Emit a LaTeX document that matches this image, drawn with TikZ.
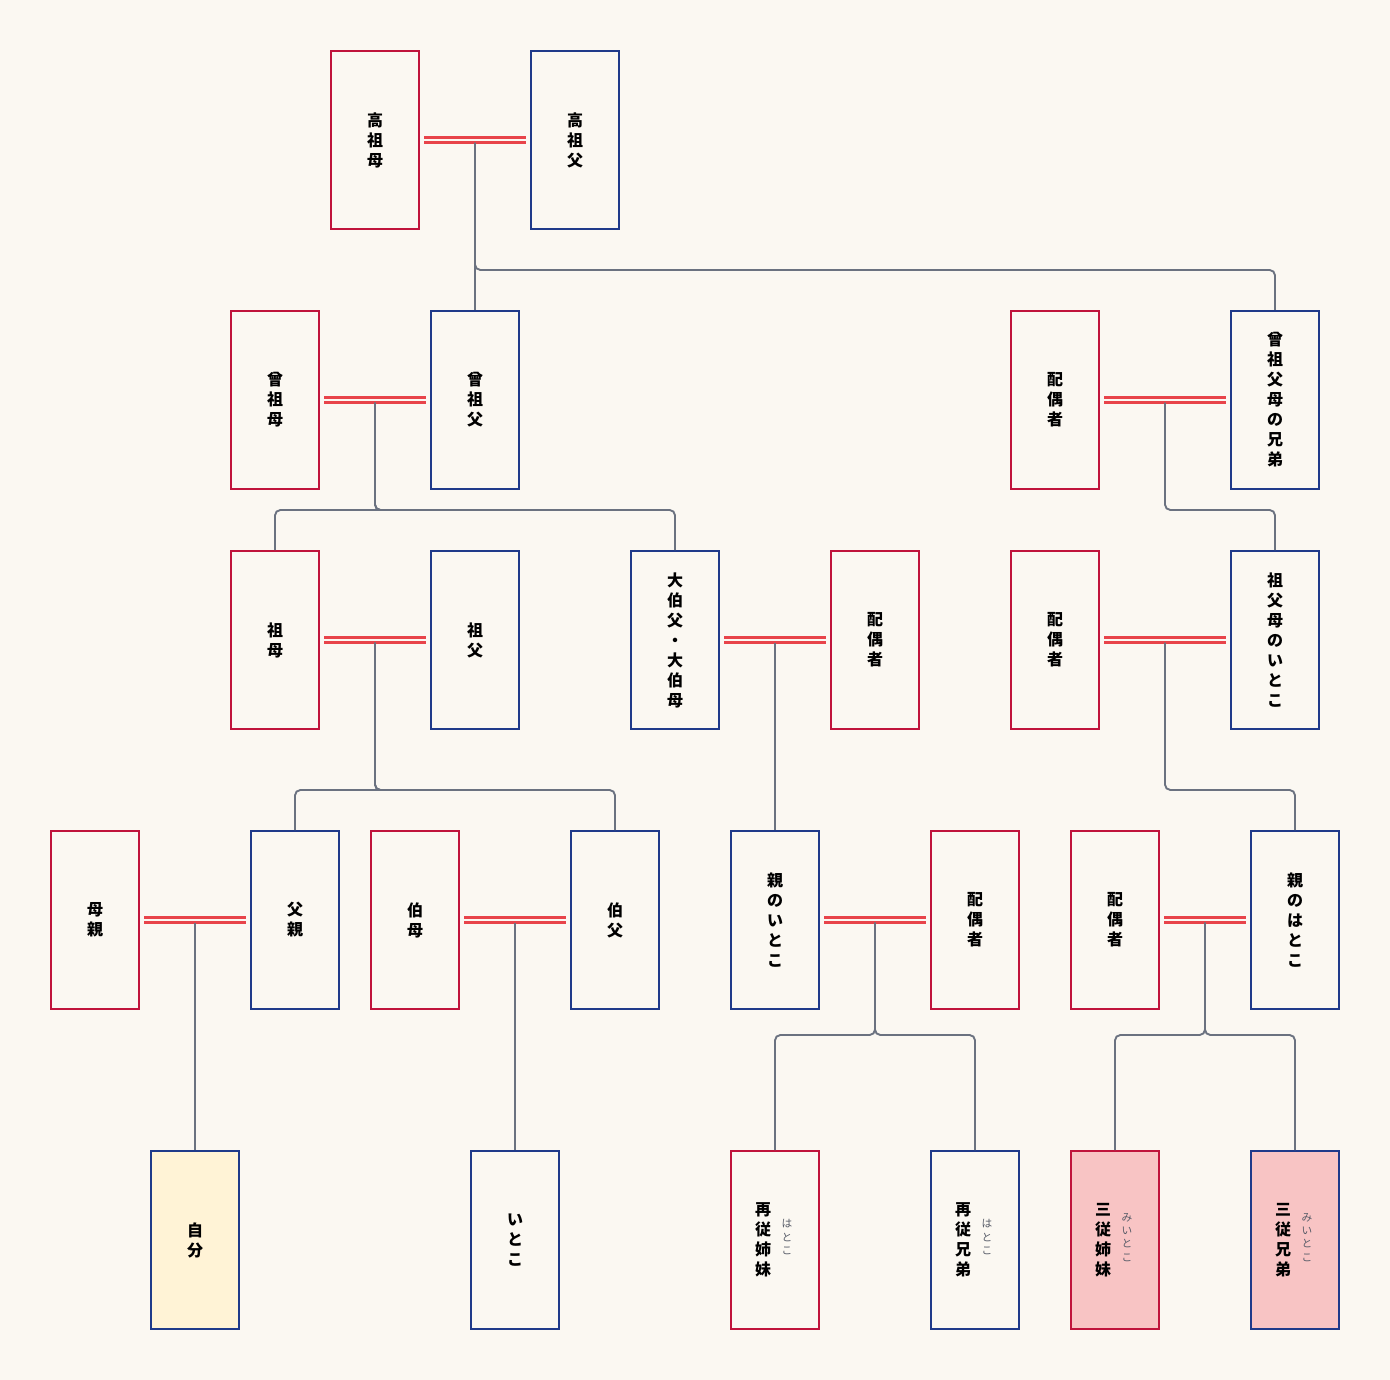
\documentclass[tikz,border=0pt]{standalone}
\usepackage{fontspec}
\newfontfamily\cjk{Noto Sans CJK JP}
\newfontfamily\cjkb{Noto Sans CJK JP Bold}
\definecolor{bg}{HTML}{FBF8F2}
\definecolor{fred}{HTML}{C0143C}
\definecolor{fblue}{HTML}{1F3A8A}
\definecolor{lgray}{HTML}{6B7280}
\definecolor{mred}{HTML}{E8444A}
\definecolor{yel}{HTML}{FFF3D6}
\definecolor{pink}{HTML}{F8C4C4}
\begin{document}
\begin{tikzpicture}[x=0.75pt,y=-0.75pt,
 p/.style={draw,line width=1.5pt,minimum width=66pt,minimum height=133.5pt,inner sep=0pt,fill=bg,
   font=\cjk\bfseries\fontsize{12}{15}\selectfont,align=center,text width=20pt},
 f/.style={p,draw=fred},
 m/.style={p,draw=fblue},
 ln/.style={draw=lgray,line width=1.4pt,rounded corners=4pt},
 mar/.style={draw=mred,line width=2.6pt,double=bg,double distance=1.3pt},
 rb/.style={font=\cjk\fontsize{8}{10}\selectfont,text=lgray!80!black,align=center}]
\fill[bg] (0,0) rectangle (1390,1380);
\useasboundingbox (0,0) rectangle (1390,1380);
% row 1
\node[f] (a1) at (375,140) {高\\祖\\母};
\node[m] (a2) at (575,140) {高\\祖\\父};
% row 2
\node[f] (b1) at (275,400) {曾\\祖\\母};
\node[m] (b2) at (475,400) {曾\\祖\\父};
\node[f] (b3) at (1055,400) {配\\偶\\者};
\node[m] (b4) at (1275,400) {曾\\祖\\父\\母\\の\\兄\\弟};
% row 3
\node[f] (c1) at (275,640) {祖\\母};
\node[m] (c2) at (475,640) {祖\\父};
\node[m] (c3) at (675,640) {大\\伯\\父\\・\\大\\伯\\母};
\node[f] (c4) at (875,640) {配\\偶\\者};
\node[f] (c5) at (1055,640) {配\\偶\\者};
\node[m] (c6) at (1275,640) {祖\\父\\母\\の\\い\\と\\こ};
% row 4
\node[f] (d1) at (95,920) {母\\親};
\node[m] (d2) at (295,920) {父\\親};
\node[f] (d3) at (415,920) {伯\\母};
\node[m] (d4) at (615,920) {伯\\父};
\node[m] (d5) at (775,920) {親\\の\\い\\と\\こ};
\node[f] (d6) at (975,920) {配\\偶\\者};
\node[f] (d7) at (1115,920) {配\\偶\\者};
\node[m] (d8) at (1295,920) {親\\の\\は\\と\\こ};
% row 5
\node[m,fill=yel] (e1) at (195,1240) {自\\分};
\node[m] (e2) at (515,1240) {い\\と\\こ};
\node[f] (e3) at (775,1240) {};
\node[m] (e4) at (975,1240) {};
\node[f,fill=pink] (e5) at (1115,1240) {};
\node[m,fill=pink] (e6) at (1295,1240) {};
\foreach \n/\t/\r in {e3/再\\従\\姉\\妹/は\\と\\こ, e4/再\\従\\兄\\弟/は\\と\\こ, e5/三\\従\\姉\\妹/み\\い\\と\\こ, e6/三\\従\\兄\\弟/み\\い\\と\\こ}{
  \node[font=\cjk\bfseries\fontsize{12}{15}\selectfont,align=center] (\n t) at ([xshift=-9pt]\n.center) {\t};
  \node[rb] (\n r) at ([xshift=9pt,yshift=2pt]\n.center) {\r};
}
% marriages
\foreach \x/\y/\n in {a1/a2/ma, b1/b2/mb, b3/b4/mc, c1/c2/md, c3/c4/me, c5/c6/mf, d1/d2/mg, d3/d4/mh, d5/d6/mi, d7/d8/mj}{
  \draw[mar] ([xshift=3pt]\x.east) -- ([xshift=-3pt]\y.west) coordinate[midway] (\n);
}
% descent lines
\draw[ln] ([yshift=-2pt]ma) -- (b2.north);
\draw[ln] ([yshift=-2pt]ma) |- (720,270) -| (b4.north);
\draw[ln] ([yshift=-2pt]mb) |- (500,510) -| (c1.north);
\draw[ln] ([yshift=-2pt]mb) |- (500,510) -| (c3.north);
\draw[ln] ([yshift=-2pt]mc) |- (1220,510) -| (c6.north);
\draw[ln] ([yshift=-2pt]md) |- (500,790) -| (d2.north);
\draw[ln] ([yshift=-2pt]md) |- (500,790) -| (d4.north);
\draw[ln] ([yshift=-2pt]me) -- (d5.north);
\draw[ln] ([yshift=-2pt]mf) |- (1230,790) -| (d8.north);
\draw[ln] ([yshift=-2pt]mg) -- (e1.north);
\draw[ln] ([yshift=-2pt]mh) -- (e2.north);
\draw[ln] ([yshift=-2pt]mi) |- (875,1035) -| (e3.north);
\draw[ln] ([yshift=-2pt]mi) |- (875,1035) -| (e4.north);
\draw[ln] ([yshift=-2pt]mj) |- (1205,1035) -| (e5.north);
\draw[ln] ([yshift=-2pt]mj) |- (1205,1035) -| (e6.north);
\end{tikzpicture}
\end{document}
